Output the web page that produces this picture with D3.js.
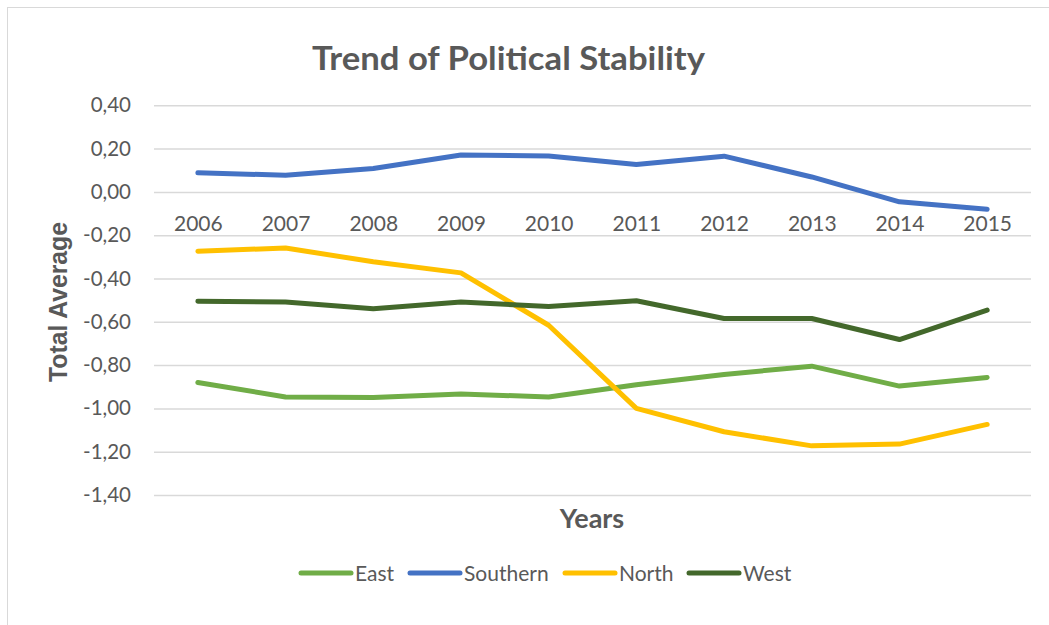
<!DOCTYPE html>
<html>
<head>
<meta charset="utf-8">
<script src="https://cdn.jsdelivr.net/npm/d3@7"></script>
<style>
  html, body { margin: 0; padding: 0; background: #fff; }
  svg { display: block; }
</style>
</head>
<body>
<svg id="chart" width="1049" height="625"></svg>
<script>
// Political stability averages by region, 2006–2015
const years = ["2006", "2007", "2008", "2009", "2010", "2011", "2012", "2013", "2014", "2015"];
const seriesNames = ["East", "Southern", "North", "West"];
const east     = [-0.880, -0.947, -0.950, -0.934, -0.947, -0.891, -0.843, -0.805, -0.897, -0.857];
const southern = [ 0.088,  0.077,  0.108,  0.170,  0.166,  0.127,  0.165,  0.069, -0.046, -0.080];
const north    = [-0.274, -0.259, -0.323, -0.374, -0.616, -1.000, -1.108, -1.173, -1.165, -1.074];
const west     = [-0.505, -0.509, -0.540, -0.509, -0.529, -0.503, -0.585, -0.585, -0.682, -0.546];
const yTicks   = [0.4, 0.2, 0, -0.2, -0.4, -0.6, -0.8, -1.0, -1.2, -1.4];
const colors   = ["#70AD47", "#4472C4", "#FFC000", "#43682B"];

const seriesValues = [east, southern, north, west];

const svg = d3.select("#chart");
const W = 1049, H = 625;
const plot = { left: 154, right: 1031, top: 105.3, bottom: 495 };
const textColor = "#595959";
const bodyFont = "Lato, 'Open Sans', sans-serif";

// chart area border
svg.append("rect")
  .attr("x", 7.5).attr("y", 7.5)
  .attr("width", W + 10).attr("height", H + 10)
  .attr("fill", "none").attr("stroke", "#D9D9D9").attr("stroke-width", 1);

const x = d3.scalePoint().domain(years).range([plot.left, plot.right]).padding(0.5);
const y = d3.scaleLinear().domain([-1.4, 0.4]).range([plot.bottom, plot.top]);

const fmt = v => d3.format(".2f")(v).replace(".", ",").replace("−", "-");

// gridlines + value labels
const yAxis = d3.axisLeft(y).tickValues(yTicks).tickSize(-(plot.right - plot.left)).tickFormat(fmt).tickPadding(23);
const gy = svg.append("g").attr("transform", `translate(${plot.left},0)`).call(yAxis);
gy.select(".domain").remove();
gy.selectAll(".tick line").attr("stroke", "#D9D9D9").attr("stroke-width", 1.5);
gy.selectAll(".tick text")
  .attr("fill", textColor)
  .style("font-family", bodyFont)
  .style("font-size", "20.5px");

// category axis crosses at zero
const xAxis = d3.axisBottom(x).tickSize(0).tickPadding(24);
const gx = svg.append("g").attr("transform", `translate(0,${y(0)})`).call(xAxis);
gx.select(".domain").remove();
gx.selectAll(".tick text")
  .attr("fill", textColor)
  .style("font-family", bodyFont)
  .style("font-size", "21px");

// series lines
const line = d3.line().x((d, i) => x(years[i])).y(d => y(d));
seriesNames.forEach((name, k) => {
  svg.append("path")
    .datum(seriesValues[k])
    .attr("d", line)
    .attr("fill", "none")
    .attr("stroke", colors[k])
    .attr("stroke-width", 5)
    .attr("stroke-linejoin", "round")
    .attr("stroke-linecap", "round");
});

// title
svg.append("text")
  .attr("x", 312).attr("y", 70)
  .attr("fill", textColor)
  .attr("textLength", 393)
  .attr("lengthAdjust", "spacingAndGlyphs")
  .style("font-family", bodyFont)
  .style("font-weight", "bold")
  .style("font-size", "33px")
  .text("Trend of Political Stability");

// axis titles
svg.append("text")
  .attr("transform", "translate(67,302) rotate(-90)")
  .attr("x", -80)
  .attr("fill", textColor)
  .attr("textLength", 160)
  .attr("lengthAdjust", "spacingAndGlyphs")
  .style("font-family", "'Liberation Sans', Arial, sans-serif")
  .style("font-weight", "bold")
  .style("font-size", "25px")
  .text("Total Average");

svg.append("text")
  .attr("x", 592).attr("y", 528)
  .attr("text-anchor", "middle")
  .attr("fill", textColor)
  .style("font-family", bodyFont)
  .style("font-weight", "bold")
  .style("font-size", "27px")
  .text("Years");

// legend
const legendX = [300, 409, 564, 688];
const lg = svg.append("g");
seriesNames.forEach((name, k) => {
  const g = lg.append("g").attr("transform", `translate(${legendX[k]},573)`);
  g.append("line")
    .attr("x1", 1).attr("x2", 51).attr("y1", 0).attr("y2", 0)
    .attr("stroke", colors[k]).attr("stroke-width", 5).attr("stroke-linecap", "round");
  g.append("text")
    .attr("x", 55).attr("y", 7.5)
    .attr("fill", textColor)
    .style("font-family", bodyFont)
    .style("font-size", "21px")
    .text(name);
});
</script>
</body>
</html>
